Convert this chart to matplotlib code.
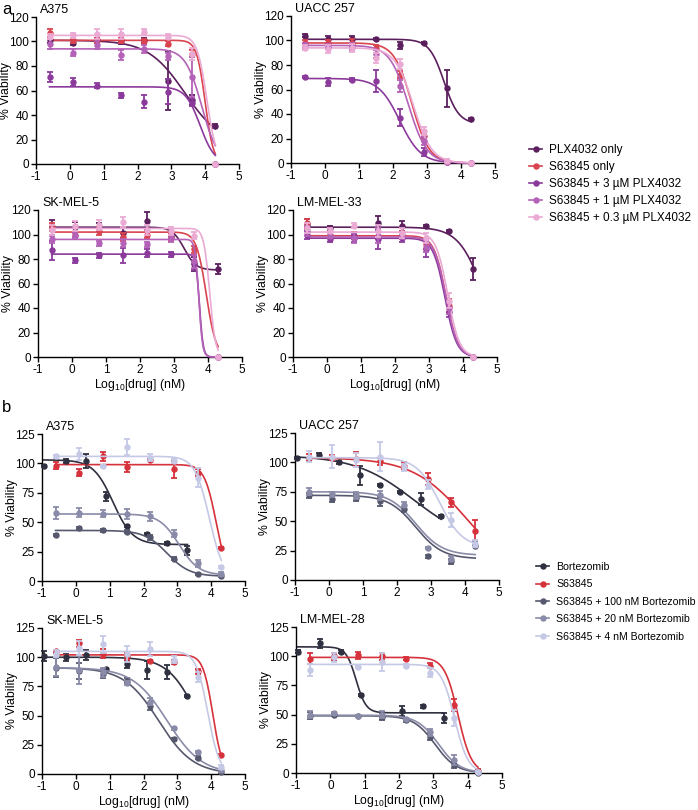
import numpy as np
import matplotlib
matplotlib.use('Agg')
import matplotlib.pyplot as plt
from matplotlib.lines import Line2D

plt.rcParams['font.family'] = ['Liberation Sans', 'DejaVu Sans']
plt.rcParams['mathtext.fontset'] = 'custom'
plt.rcParams['mathtext.rm'] = 'Liberation Sans'
plt.rcParams['mathtext.it'] = 'Liberation Sans:italic'
plt.rcParams['axes.unicode_minus'] = False

W, H = 698, 810

# ---------------- data ----------------
X_S = [-0.6, 0.1, 0.8, 1.5, 2.2, 2.9, 3.6, 4.3]      # S63845 doses (log10 nM)
X_PLX = [-0.6, 0.1, 0.8, 1.5, 2.2, 2.9, 3.6, 4.3]    # PLX4032 doses
X_B = [-0.95, -0.3, 0.3, 0.9, 1.5, 2.1, 2.7, 3.3]    # Bortezomib doses

LABELS_A = ["PLX4032 only", "S63845 only", "S63845 + 3 µM PLX4032",
            "S63845 + 1 µM PLX4032", "S63845 + 0.3 µM PLX4032"]
COLORS_A = ["#5b1f5e", "#d9444f", "#8b3a9c", "#b462b8", "#eaaad4"]
LABELS_B = ["Bortezomib", "S63845", "S63845 + 100 nM Bortezomib",
            "S63845 + 20 nM Bortezomib", "S63845 + 4 nM Bortezomib"]
COLORS_B = ["#2f3040", "#d6323c", "#56586e", "#8a8ba8", "#c5c9e6"]

# panel a : A375
a_A375_y = [[101, 99, 101, 100, 101, 68, 52, 31],
            [107, 101, 101, 101, 100, 98, 90, 0],
            [71, 67, 64, 56, 51, 59, 50, 0],
            [98, 91, 97, 89, 94, 88, 71, 0],
            [104, 105, 106, 106, 108, 104, 90, 0]]
a_A375_err = [[2, 2, 2, 2, 2, 24, 4, 2],
              [3, 2, 2, 2, 2, 2, 3, 0],
              [4, 3, 2, 2, 5, 10, 3, 0],
              [4, 3, 3, 4, 3, 3, 16, 0],
              [2, 2, 4, 4, 2, 2, 5, 0]]
a_A375_fit = [[101, 15, 3.4, 0.8], [101, 0, 4.0, 3.5], [63, 0, 3.85, 2.0],
              [94, 0, 3.9, 1.8], [105, 0, 4.05, 3.0]]

# panel a : UACC 257
a_UACC_y = [[104, 101, 101, 101, 96, 98, 61, 36],
            [98, 98, 98, 94, 72, 22, 1, 0],
            [70, 66, 68, 67, 37, 9, 1, 0],
            [96, 95, 95, 89, 63, 18, 1, 0],
            [94, 93, 94, 86, 81, 26, 2, 0]]
a_UACC_err = [[1, 3, 3, 1, 3, 1, 15, 1],
              [2, 2, 3, 2, 3, 2, 1, 0],
              [1, 3, 1, 9, 7, 3, 1, 0],
              [2, 2, 3, 3, 5, 3, 1, 0],
              [2, 3, 3, 4, 4, 3, 1, 0]]
a_UACC_fit = [[101, 32, 3.5, 2.0], [98, 0, 2.55, 1.7], [69, 0, 2.2, 1.4],
              [96, 0, 2.45, 1.6], [94, 0, 2.6, 1.6]]

# panel a : SK-MEL-5
a_SK_y = [[106, 106, 106, 101, 111, 99, 76, 72],
          [106, 100, 103, 98, 100, 98, 88, 0],
          [87, 79, 83, 83, 85, 84, 77, 0],
          [96, 99, 93, 93, 92, 97, 78, 0],
          [104, 107, 108, 110, 104, 103, 99, 0]]
a_SK_err = [[6, 4, 3, 4, 7, 3, 6, 4],
            [3, 2, 3, 3, 3, 3, 3, 0],
            [8, 2, 2, 6, 3, 2, 6, 0],
            [3, 2, 2, 3, 2, 3, 5, 0],
            [4, 4, 4, 4, 4, 3, 3, 0]]
a_SK_fit = [[106, 71, 3.3, 2.5], [102, 0, 3.95, 3.0], [84, 0, 3.75, 8.0],
            [96, 0, 3.73, 8.0], [105, 0, 4.05, 5.0]]

# panel a : LM-MEL-33
a_LM_y = [[108, 105, 99, 109, 107, 107, 103, 72],
          [109, 100, 99, 99, 100, 92, 42, 0],
          [100, 96, 97, 96, 97, 88, 37, 0],
          [103, 99, 97, 99, 99, 90, 40, 0],
          [105, 103, 107, 103, 101, 97, 46, 0]]
a_LM_err = [[5, 2, 3, 6, 4, 1, 1, 9],
            [4, 2, 3, 3, 3, 4, 5, 0],
            [4, 2, 3, 8, 3, 6, 4, 0],
            [4, 2, 4, 6, 3, 4, 5, 0],
            [4, 2, 2, 5, 4, 4, 6, 0]]
a_LM_fit = [[106, 0, 4.6, 1.2], [99, 0, 3.5, 2.5], [97, 0, 3.47, 2.5],
            [98, 0, 3.5, 2.5], [102, 0, 3.55, 2.5]]

# panel b : A375
b_A375_y = [[98, 102, 102, 72, 47, 40, 32, 26],
            [98, 92, 106, 97, 103, 95, 92, 28],
            [39, 45, 43, 42, 37, 19, 6, 4],
            [58, 58, 57, 57, 55, 40, 15, 6],
            [106, 108, 98, 114, 105, 102, 88, 12]]
b_A375_err = [[1, 2, 6, 4, 1, 1, 1, 4],
              [3, 3, 4, 4, 1, 7, 3, 1],
              [1, 1, 1, 1, 2, 1, 1, 1],
              [5, 4, 3, 4, 4, 3, 3, 2],
              [1, 5, 1, 7, 3, 2, 8, 1]]
b_A375_fit = [[103, 31, 1.1, 1.5], [99, 0, 4.15, 2.5], [43, 4, 2.7, 1.3],
              [57, 5, 3.05, 1.5], [106, 0, 3.95, 2.0]]

# panel b : UACC 257
b_UACC_y = [[104, 106, 100, 89, 81, 75, 69, 54],
            [104, 104, 103, 101, 97, 86, 66, 42],
            [72, 69, 70, 67, 60, 20, 16, 29],
            [75, 73, 72, 72, 64, 27, 18, 30],
            [105, 105, 102, 105, 96, 81, 51, 31]]
b_UACC_err = [[1, 2, 1, 8, 1, 1, 5, 1],
              [3, 2, 6, 3, 3, 5, 4, 9],
              [2, 3, 3, 4, 2, 1, 2, 1],
              [3, 2, 3, 4, 2, 1, 2, 2],
              [5, 10, 6, 12, 3, 4, 6, 3]]
b_UACC_fit = [[106, 30, 2.5, 0.5], [104, 0, 4.05, 0.55], [72, 18, 2.55, 1.1],
              [75, 21, 2.55, 1.1], [104, 28, 3.25, 1.3]]

# panel b : SK-MEL-5
b_SK_y = [[101, 100, 102, 90, 94, 89, 87, 67],
          [105, 112, 103, 101, 97, 96, 88, 16],
          [91, 88, 86, 80, 58, 30, 14, 2],
          [92, 89, 87, 78, 62, 39, 19, 3],
          [103, 108, 111, 103, 107, 98, 83, 6]]
b_SK_err = [[4, 3, 4, 1, 3, 8, 6, 1],
            [1, 3, 4, 3, 1, 2, 2, 1],
            [8, 7, 4, 2, 3, 1, 1, 1],
            [8, 12, 4, 2, 3, 1, 1, 1],
            [3, 6, 7, 7, 6, 3, 4, 2]]
b_SK_fit = [[100, 0, 3.6, 1.0], [102, 0, 4.05, 3.0], [91, 0, 2.45, 0.85],
            [91, 0, 2.7, 0.85], [105, 0, 3.9, 2.5]]

# panel b : LM-MEL-28
b_LM_y = [[104, 111, 104, 67, 49, 53, 57, 47],
          [98, 100, 101, 100, 98, 92, 58, 2],
          [49, 50, 49, 48, 45, 31, 7, 0],
          [50, 51, 49, 50, 46, 35, 11, 1],
          [88, 99, 91, 95, 92, 86, 47, 1]]
b_LM_err = [[1, 4, 1, 1, 3, 4, 1, 4],
            [5, 3, 3, 3, 1, 2, 5, 1],
            [3, 1, 1, 3, 1, 3, 3, 1],
            [3, 1, 1, 3, 1, 3, 4, 1],
            [5, 4, 1, 8, 1, 4, 7, 1]]
b_LM_fit = [[108, 51.5, 0.75, 3.0], [99, 0, 3.72, 2.2], [49, 0, 3.05, 1.4],
            [49.5, 0, 3.15, 1.4], [93, 0, 3.62, 2.2]]


def four_pl(x, p):
    top, bottom, lic50, hill = p
    return bottom + (top - bottom) / (1 + 10 ** (hill * (x - lic50)))


fig = plt.figure(figsize=(W / 100, H / 100), dpi=100)


def add_axes(l, r, t, b):
    return fig.add_axes([l / W, 1 - b / H, (r - l) / W, (b - t) / H])


def style(ax, pos, title, ymax, ystep, xlabel):
    l, r, t, b = pos
    ax.set_xlim(-1, 5)
    ax.set_ylim(0, ymax)
    ax.set_xticks(range(-1, 6))
    ax.set_yticks(np.arange(0, ymax + 1, ystep))
    for s in ['top', 'right']:
        ax.spines[s].set_visible(False)
    for s in ['left', 'bottom']:
        ax.spines[s].set_linewidth(1.0)
    ax.tick_params(direction='out', length=3.5, width=1.0, labelsize=8.5, pad=1.5)
    ax.set_ylabel('% Viability', fontsize=8.8)
    ax.yaxis.set_label_coords((l - 24) / W, 1 - (t + b) / 2 / H, transform=fig.transFigure)
    if xlabel:
        ax.set_xlabel('Log$_{10}$[drug] (nM)', fontsize=8.8, labelpad=1)
    ax.text(0.02, 1 + 4.0 / (b - t), title, transform=ax.transAxes, fontsize=9,
            va='baseline', ha='left')


def draw(ax, xs_list, ys, errs, fits, colors, xranges):
    for i in range(5):
        c = colors[i]
        xs = xs_list[i]
        x0, x1 = xranges[i]
        xx = np.linspace(x0, x1, 300)
        ax.plot(xx, four_pl(xx, fits[i]), color=c, lw=1.2, clip_on=False, zorder=2 + i)
        ax.errorbar(xs, ys[i], yerr=errs[i], fmt='o', color=c, ms=3.6, elinewidth=1.3,
                    capsize=2.3, capthick=1.3, clip_on=False, zorder=3 + i)


# panel a
panels_a = [
    ((36, 239, 17, 164), 'A375', a_A375_y, a_A375_err, a_A375_fit, False),
    ((291, 495, 16, 163), 'UACC 257', a_UACC_y, a_UACC_err, a_UACC_fit, False),
    ((38, 242, 210, 357), 'SK-MEL-5', a_SK_y, a_SK_err, a_SK_fit, True),
    ((293, 497, 210, 357), 'LM-MEL-33', a_LM_y, a_LM_err, a_LM_fit, True),
]
for pos, title, ys, errs, fits, xl in panels_a:
    ax = add_axes(*pos)
    style(ax, pos, title, 120, 20, xl)
    draw(ax, [X_PLX] + [X_S] * 4, ys, errs, fits, COLORS_A,
         [(-0.6, 4.3)] * 5)

panels_b = [
    ((42, 245, 434, 581), 'A375', b_A375_y, b_A375_err, b_A375_fit, False),
    ((295, 499, 433, 580), 'UACC 257', b_UACC_y, b_UACC_err, b_UACC_fit, False),
    ((42, 245, 628, 774), 'SK-MEL-5', b_SK_y, b_SK_err, b_SK_fit, True),
    ((296, 502, 627, 773), 'LM-MEL-28', b_LM_y, b_LM_err, b_LM_fit, True),
]
for pos, title, ys, errs, fits, xl in panels_b:
    ax = add_axes(*pos)
    style(ax, pos, title, 125, 25, xl)
    draw(ax, [X_B] + [X_S] * 4, ys, errs, fits, COLORS_B,
         [(-0.95, 3.3)] + [(-0.6, 4.3)] * 4)


# legends
def legend(labels, colors, x, y, fs, ls):
    handles = [Line2D([0], [0], color=c, lw=1.2, marker='o', ms=3.6) for c in colors]
    fig.legend(handles, labels, loc='upper left', bbox_to_anchor=(x / W, 1 - y / H),
               frameon=False, fontsize=fs, handlelength=13.0 / (fs * 100 / 72),
               handletextpad=7.0 / (fs * 100 / 72),
               labelspacing=ls, borderaxespad=0, borderpad=0)


legend(LABELS_A, COLORS_A, 529, 144, 8.5, 0.42)
legend(LABELS_B, COLORS_B, 536, 562, 7.6, 0.7)

fig.text(2 / W, 1 - 2 / H, 'a', fontsize=12, va='top', ha='left')
fig.text(2 / W, 1 - 400 / H, 'b', fontsize=12, va='top', ha='left')

fig.savefig('out.png', dpi=100)
